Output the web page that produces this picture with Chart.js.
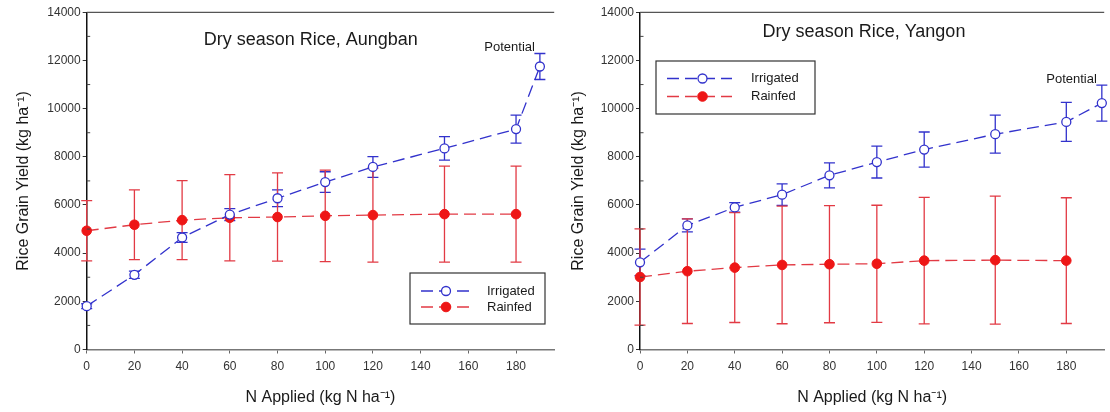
<!DOCTYPE html>
<html>
<head>
<meta charset="utf-8">
<script src="https://cdn.jsdelivr.net/npm/chart.js@4.4.0/dist/chart.umd.min.js"></script>
<style>
html,body{margin:0;padding:0;background:#ffffff;}
#wrap{position:relative;width:1110px;height:412px;overflow:hidden;background:#fff;}
.box{position:absolute;top:0;height:412px;}
#c1box{left:0;width:560px;}
#c2box{left:555px;width:555px;}
canvas{display:block;}
</style>
</head>
<body>
<div id="wrap">
  <div class="box" id="c1box"><canvas id="c1" width="560" height="412"></canvas></div>
  <div class="box" id="c2box"><canvas id="c2" width="555" height="412"></canvas></div>
</div>
<script>
// ---------- data ----------
const nApplied = [0, 20, 40, 60, 80, 100, 120, 150, 180];
const xTickValues = [0, 20, 40, 60, 80, 100, 120, 140, 160, 180];
const yTickValues = [0, 2000, 4000, 6000, 8000, 10000, 12000, 14000];
const yMinorTickValues = [1000, 3000, 5000, 7000, 9000, 11000, 13000];
const seriesNames = ['Irrigated', 'Rainfed'];
const potentialLabel = 'Potential';

const aungbanTitle = 'Dry season Rice, Aungban';
const aungbanIrrX = [0, 20, 40, 60, 80, 100, 120, 150, 180, 190];
const aungbanIrrigated = [1800, 3100, 4650, 5600, 6280, 6950, 7580, 8350, 9150, 11750];
const aungbanIrrErr = [100, 150, 200, 250, 350, 430, 430, 490, 580, 540];
const aungbanRainfed = [4930, 5180, 5370, 5470, 5500, 5550, 5580, 5620, 5620];
const aungbanRainErr = [1250, 1450, 1640, 1790, 1830, 1900, 1950, 1990, 1990];

const yangonTitle = 'Dry season Rice, Yangon';
const yangonIrrX = [0, 20, 40, 60, 80, 100, 120, 150, 180, 195];
const yangonIrrigated = [3620, 5150, 5900, 6430, 7230, 7780, 8300, 8940, 9450, 10230];
const yangonIrrErr = [550, 270, 200, 450, 520, 660, 730, 790, 810, 750];
const yangonRainfed = [3010, 3250, 3400, 3510, 3540, 3560, 3690, 3710, 3690];
const yangonRainErr = [2000, 2170, 2280, 2440, 2430, 2430, 2630, 2660, 2610];

const xAxisTitle = 'N Applied (kg N ha\u207B\u00B9)';
const yAxisTitle = 'Rice Grain Yield (kg ha\u207B\u00B9)';

// ---------- styles ----------
const FONT = '"Liberation Sans", Arial, Helvetica, sans-serif';
const BLUE = '#3232cc';
const RED_LINE = '#e23a44';
const RED_PT = '#ee1616';

function pts(xs, ys) { return xs.map((x, i) => ({ x: x, y: ys[i] })); }

const decorations = {
  id: 'decorations',
  beforeDatasetsDraw(chart) {
    const ctx = chart.ctx, xs = chart.scales.x, ys = chart.scales.y;
    ctx.save();
    chart.data.datasets.forEach(ds => {
      ctx.strokeStyle = ds.errColor;
      ctx.lineWidth = 1.3;
      ds.data.forEach((p, i) => {
        const e = ds.errors[i];
        const px = xs.getPixelForValue(p.x);
        const yt = ys.getPixelForValue(p.y + e);
        const yb = ys.getPixelForValue(p.y - e);
        ctx.beginPath();
        ctx.moveTo(px, yt); ctx.lineTo(px, yb);
        ctx.moveTo(px - 5.5, yt); ctx.lineTo(px + 5.5, yt);
        ctx.moveTo(px - 5.5, yb); ctx.lineTo(px + 5.5, yb);
        ctx.stroke();
      });
    });
    ctx.restore();
  },
  afterDraw(chart, args, o) {
    const ctx = chart.ctx, xs = chart.scales.x, ys = chart.scales.y, ca = chart.chartArea;
    ctx.save();
    // top frame line
    ctx.strokeStyle = '#555';
    ctx.lineWidth = 1.2;
    ctx.beginPath();
    ctx.moveTo(ca.left, ca.top); ctx.lineTo(ca.right, ca.top);
    ctx.stroke();
    // minor y ticks (inside)
    ctx.strokeStyle = '#444';
    ctx.lineWidth = 1;
    yMinorTickValues.forEach(v => {
      const y = ys.getPixelForValue(v);
      ctx.beginPath(); ctx.moveTo(ca.left, y); ctx.lineTo(ca.left + 3.5, y); ctx.stroke();
    });
    // plot title
    ctx.fillStyle = '#1a1a1a';
    ctx.font = '18px ' + FONT;
    ctx.textAlign = 'center';
    ctx.textBaseline = 'middle';
    ctx.fillText(o.title, ca.left + o.titleDX, o.titleY);
    // potential label
    const irr = chart.data.datasets[0];
    const last = irr.data.length - 1;
    const lp = irr.data[last];
    const lx = xs.getPixelForValue(lp.x);
    const ly = ys.getPixelForValue(lp.y + irr.errors[last]);
    ctx.font = '13px ' + FONT;
    ctx.textAlign = 'right';
    ctx.fillStyle = '#1a1a1a';
    ctx.fillText(potentialLabel, lx - 5, ly - 6);
    // legend
    const L = o.legend;
    ctx.fillStyle = '#fff';
    ctx.fillRect(L.x, L.y, L.w, L.h);
    ctx.strokeStyle = '#333';
    ctx.lineWidth = 1.2;
    ctx.strokeRect(L.x, L.y, L.w, L.h);
    chart.data.datasets.forEach((ds, i) => {
      const y = L.y + L.rows[i];
      ctx.setLineDash(ds.borderDash);
      ctx.strokeStyle = ds.borderColor;
      ctx.lineWidth = ds.borderWidth;
      ctx.beginPath(); ctx.moveTo(L.x + L.line0, y); ctx.lineTo(L.x + L.line1, y); ctx.stroke();
      ctx.setLineDash([]);
      ctx.beginPath();
      ctx.arc(L.x + L.mark, y, ds.pointRadius, 0, Math.PI * 2);
      ctx.fillStyle = ds.pointBackgroundColor;
      ctx.fill();
      ctx.strokeStyle = ds.pointBorderColor;
      ctx.lineWidth = ds.pointBorderWidth;
      ctx.stroke();
      ctx.fillStyle = '#1a1a1a';
      ctx.font = '13px ' + FONT;
      ctx.textAlign = 'left';
      ctx.textBaseline = 'middle';
      ctx.fillText(ds.label, L.x + L.text, y);
    });
    ctx.restore();
  }
};

function makeChart(id, c) {
  return new Chart(document.getElementById(id), {
    type: 'line',
    data: {
      datasets: [
        {
          label: seriesNames[0], data: pts(c.irrX, c.irr), errors: c.irrErr, errColor: BLUE,
          borderColor: BLUE, backgroundColor: '#fff', borderWidth: 1.3, borderDash: [12, 6],
          pointRadius: 4.5, pointBorderWidth: 1.3, pointBackgroundColor: '#fff', pointBorderColor: BLUE,
          tension: 0, fill: false, clip: false
        },
        {
          label: seriesNames[1], data: pts(nApplied, c.rain), errors: c.rainErr, errColor: RED_LINE,
          borderColor: RED_LINE, backgroundColor: RED_PT, borderWidth: 1.3, borderDash: [12, 6],
          pointRadius: 4.8, pointBorderWidth: 1, pointBackgroundColor: RED_PT, pointBorderColor: RED_PT,
          tension: 0, fill: false, clip: false
        }
      ]
    },
    options: {
      responsive: false,
      animation: false,
      layout: { padding: { top: 12.3, right: c.padRight, left: 0, bottom: 0 } },
      plugins: {
        legend: { display: false },
        tooltip: { enabled: false },
        decorations: { title: c.title, titleDX: 224, titleY: c.titleY, legend: c.legend }
      },
      scales: {
        x: {
          type: 'linear', min: 0, max: 196,
          afterBuildTicks: a => { a.ticks = xTickValues.map(v => ({ value: v })); },
          afterFit: s => { s.height = 62.5; },
          ticks: { font: { family: FONT, size: 12 }, color: '#333', padding: 6, maxRotation: 0, autoSkip: false },
          grid: { drawOnChartArea: false, tickLength: 4, tickColor: '#666', color: '#666' },
          border: { color: '#777', width: 1.5 },
          title: { display: true, text: xAxisTitle, font: { family: FONT, size: 16 }, color: '#1a1a1a', padding: { top: 0, bottom: 5 } }
        },
        y: {
          type: 'linear', min: 0, max: 14000,
          afterBuildTicks: a => { a.ticks = yTickValues.map(v => ({ value: v })); },
          afterFit: s => { s.width = c.yWidth; },
          ticks: { font: { family: FONT, size: 12 }, color: '#333', padding: 2, autoSkip: false, callback: v => String(v) },
          grid: { drawOnChartArea: false, tickLength: 4, tickColor: '#333', color: '#333' },
          border: { color: '#111', width: 1.5 },
          title: { display: true, text: yAxisTitle, font: { family: FONT, size: 16 }, color: '#1a1a1a', padding: { top: 14, bottom: 0 } }
        }
      }
    },
    plugins: [decorations]
  });
}

makeChart('c1', {
  title: aungbanTitle, titleY: 40,
  irrX: aungbanIrrX, irr: aungbanIrrigated, irrErr: aungbanIrrErr,
  rain: aungbanRainfed, rainErr: aungbanRainErr,
  padRight: 3.3, yWidth: 86.7,
  legend: { x: 410, y: 273, w: 135, h: 51, rows: [18, 34], line0: 11, line1: 59, mark: 36, text: 77 }
});

makeChart('c2', {
  title: yangonTitle, titleY: 32,
  irrX: yangonIrrX, irr: yangonIrrigated, irrErr: yangonIrrErr,
  rain: yangonRainfed, rainErr: yangonRainErr,
  padRight: 0, yWidth: 85,
  legend: { x: 101, y: 61, w: 159, h: 53, rows: [17.5, 35.5], line0: 11, line1: 76, mark: 46.5, text: 95 }
});
</script>
</body>
</html>
